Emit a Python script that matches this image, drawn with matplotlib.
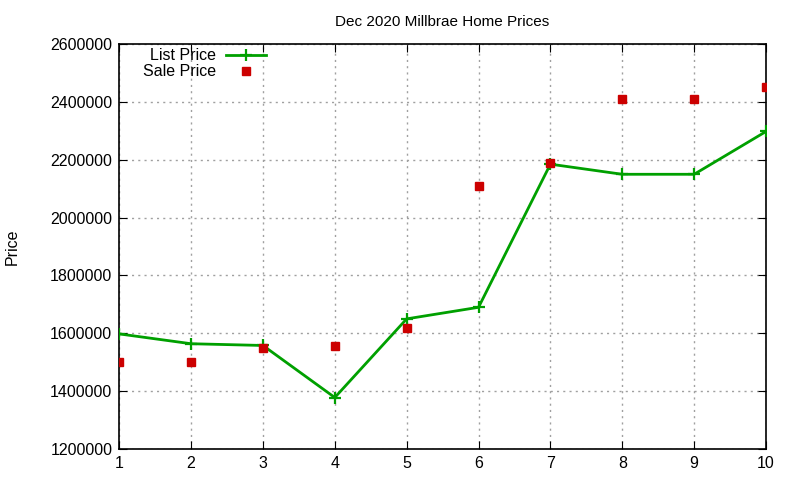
import matplotlib
matplotlib.use("Agg")
import matplotlib.pyplot as plt

plt.rcParams['font.family'] = ['Liberation Sans', 'DejaVu Sans']

homes = [1, 2, 3, 4, 5, 6, 7, 8, 9, 10]
list_price = [1598000, 1564000, 1558000, 1378000, 1650000, 1690000, 2185000, 2150000, 2150000, 2298000]
sale_price = [1500000, 1500000, 1550000, 1555000, 1620000, 2110000, 2188000, 2410000, 2410000, 2452000]

fig = plt.figure(figsize=(8, 4.8), dpi=100)
ax = fig.add_axes([0.149, 0.0646, 0.8085, 0.8434])

ax.plot(homes, list_price, color='#00a000', lw=2, marker='+', ms=9, mew=1.6,
        label='List Price', zorder=3)
ax.plot(homes, sale_price, ls='none', color='#cc0000', marker='s', ms=6,
        label='Sale Price', zorder=4)

ax.set_xlim(1, 10)
ax.set_ylim(1200000, 2600000)
ax.set_xticks(range(1, 11))
ax.set_yticks(range(1200000, 2600001, 200000))
ax.yaxis.set_major_formatter(matplotlib.ticker.FuncFormatter(lambda v, p: '%d' % v))
ax.tick_params(direction='in', top=True, right=True, length=6, labelsize=11.5, pad=5)
ax.grid(True, color='#a0a0a0', ls=(0, (1.5, 3)), lw=1)
for s in ax.spines.values():
    s.set_linewidth(1.2)

ax.set_title('Dec 2020 Millbrae Home Prices', fontsize=11, pad=13)
ax.set_ylabel('Price', fontsize=11.5, labelpad=22)

leg = ax.legend(loc='upper left', bbox_to_anchor=(0.02, 1.017), markerfirst=False,
                frameon=False, fontsize=11.5, handlelength=2.5, borderpad=0.2,
                labelspacing=0.05, handletextpad=0.6)
for t in leg.get_texts():
    t.set_ha('right')

fig.savefig('out.png', dpi=100)
